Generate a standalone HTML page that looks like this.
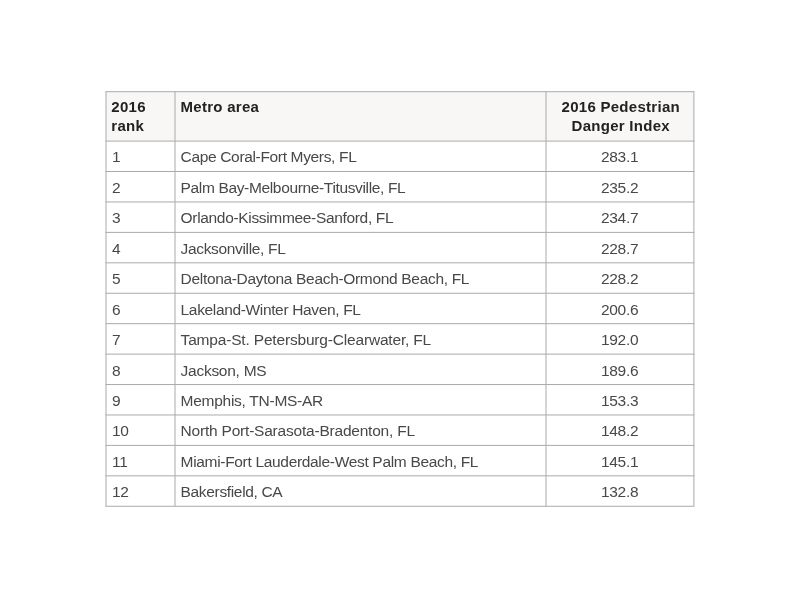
<!DOCTYPE html>
<html lang="en">
<head>
<meta charset="utf-8">
<title>2016 Pedestrian Danger Index by Metro area</title>
<style>
*{margin:0;padding:0;box-sizing:border-box}
html,body{width:800px;height:600px;background:#fff;overflow:hidden}
body{font-family:"Liberation Sans",sans-serif;font-size:15.5px;color:#484848;position:relative}
.wrap{position:absolute;left:0;top:0;width:800px;height:600px}
table,thead,tbody,tr,th,td{display:block;border:0;font-weight:inherit;text-align:left}
.tbl{position:absolute;left:0;top:0;width:800px;height:600px}
.row{position:absolute;left:106.0px;width:587.9px}
.hd{top:91.7px;height:49.39999999999999px;background:#f9f7f5;font-weight:bold;color:#222;font-size:15px;line-height:18.4px;letter-spacing:0.28px}
.c{position:absolute;top:0;height:100%;white-space:nowrap}
.c1{left:0;width:69.0px;padding-left:6.0px}
.c2{left:69.0px;width:371.0px;padding-left:5.6px}
.c3{left:440.0px;width:147.89999999999998px;text-align:center}
.hd .c{padding-top:6.7px}
.hd .c1{padding-left:5.3px}
.hd .c2{padding-left:5.5px}
.hd .c3 span{left:0.8px}
.bd .c{line-height:30.43px;padding-top:1.4px;letter-spacing:-0.27px}
.c3 span{display:inline-block;position:relative;left:-0.3px}
.grid{position:absolute;left:0;top:0;pointer-events:none}
</style>
</head>
<body>
<div class="wrap">
<table class="tbl">
<thead><tr class="row hd"><th class="c c1">2016<br>rank</th><th class="c c2">Metro area</th><th class="c c3"><span>2016 Pedestrian<br>Danger Index</span></th></tr></thead>
<tbody>
<tr class="row bd" style="top:141.10px;height:30.43px"><td class="c c1">1</td><td class="c c2" style="letter-spacing:-0.34px">Cape Coral-Fort Myers, FL</td><td class="c c3"><span>283.1</span></td></tr>
<tr class="row bd" style="top:171.53px;height:30.43px"><td class="c c1">2</td><td class="c c2" style="letter-spacing:-0.35px">Palm Bay-Melbourne-Titusville, FL</td><td class="c c3"><span>235.2</span></td></tr>
<tr class="row bd" style="top:201.96px;height:30.43px"><td class="c c1">3</td><td class="c c2" style="letter-spacing:-0.33px">Orlando-Kissimmee-Sanford, FL</td><td class="c c3"><span>234.7</span></td></tr>
<tr class="row bd" style="top:232.39px;height:30.43px"><td class="c c1">4</td><td class="c c2" style="letter-spacing:-0.34px">Jacksonville, FL</td><td class="c c3"><span>228.7</span></td></tr>
<tr class="row bd" style="top:262.82px;height:30.43px"><td class="c c1">5</td><td class="c c2" style="letter-spacing:-0.32px">Deltona-Daytona Beach-Ormond Beach, FL</td><td class="c c3"><span>228.2</span></td></tr>
<tr class="row bd" style="top:293.25px;height:30.43px"><td class="c c1">6</td><td class="c c2" style="letter-spacing:-0.35px">Lakeland-Winter Haven, FL</td><td class="c c3"><span>200.6</span></td></tr>
<tr class="row bd" style="top:323.68px;height:30.43px"><td class="c c1">7</td><td class="c c2" style="letter-spacing:-0.18px">Tampa-St. Petersburg-Clearwater, FL</td><td class="c c3"><span>192.0</span></td></tr>
<tr class="row bd" style="top:354.11px;height:30.43px"><td class="c c1">8</td><td class="c c2">Jackson, MS</td><td class="c c3"><span>189.6</span></td></tr>
<tr class="row bd" style="top:384.54px;height:30.43px"><td class="c c1">9</td><td class="c c2">Memphis, TN-MS-AR</td><td class="c c3"><span>153.3</span></td></tr>
<tr class="row bd" style="top:414.97px;height:30.43px"><td class="c c1">10</td><td class="c c2" style="letter-spacing:-0.21px">North Port-Sarasota-Bradenton, FL</td><td class="c c3"><span>148.2</span></td></tr>
<tr class="row bd" style="top:445.40px;height:30.43px"><td class="c c1">11</td><td class="c c2" style="letter-spacing:-0.32px">Miami-Fort Lauderdale-West Palm Beach, FL</td><td class="c c3"><span>145.1</span></td></tr>
<tr class="row bd" style="top:475.83px;height:30.43px"><td class="c c1">12</td><td class="c c2" style="letter-spacing:-0.34px">Bakersfield, CA</td><td class="c c3"><span>132.8</span></td></tr>
</tbody></table>
<svg class="grid" width="800" height="600" viewBox="0 0 800 600" fill="none" stroke="#aaaaaa" stroke-width="1.0"><line x1="105.50" y1="91.70" x2="694.40" y2="91.70"/><line x1="105.50" y1="141.10" x2="694.40" y2="141.10"/><line x1="105.50" y1="171.53" x2="694.40" y2="171.53"/><line x1="105.50" y1="201.96" x2="694.40" y2="201.96"/><line x1="105.50" y1="232.39" x2="694.40" y2="232.39"/><line x1="105.50" y1="262.82" x2="694.40" y2="262.82"/><line x1="105.50" y1="293.25" x2="694.40" y2="293.25"/><line x1="105.50" y1="323.68" x2="694.40" y2="323.68"/><line x1="105.50" y1="354.11" x2="694.40" y2="354.11"/><line x1="105.50" y1="384.54" x2="694.40" y2="384.54"/><line x1="105.50" y1="414.97" x2="694.40" y2="414.97"/><line x1="105.50" y1="445.40" x2="694.40" y2="445.40"/><line x1="105.50" y1="475.83" x2="694.40" y2="475.83"/><line x1="105.50" y1="506.26" x2="694.40" y2="506.26"/><line x1="106.00" y1="91.70" x2="106.00" y2="506.26"/><line x1="175.00" y1="91.70" x2="175.00" y2="506.26"/><line x1="546.00" y1="91.70" x2="546.00" y2="506.26"/><line x1="693.90" y1="91.70" x2="693.90" y2="506.26"/></svg>
</div>
</body>
</html>
